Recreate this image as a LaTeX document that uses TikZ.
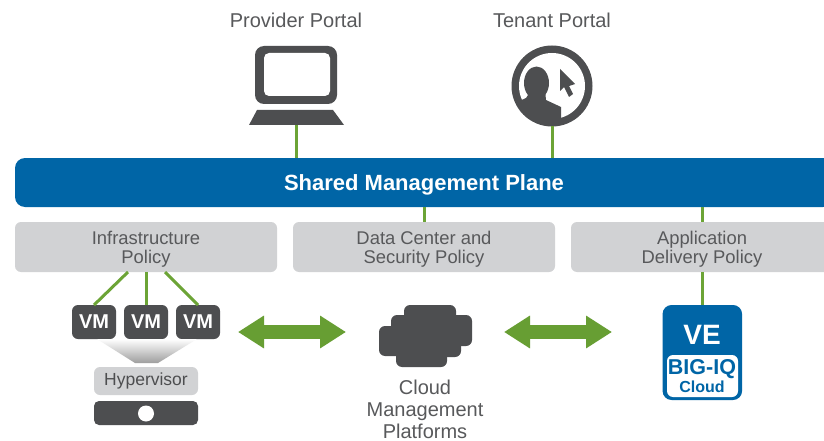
\documentclass[tikz,border=0pt]{standalone}
\usepackage{fontspec}
\setmainfont{Liberation Sans}
\usetikzlibrary{arrows.meta}
\definecolor{dark}{HTML}{4D4E50}
\definecolor{txt}{HTML}{58595B}
\definecolor{blue1}{HTML}{0065A6}
\definecolor{pale}{HTML}{D1D2D4}
\definecolor{grn}{HTML}{6CA436}
\definecolor{grn2}{HTML}{679E33}
\newcommand{\fs}[2]{\fontsize{#1}{#2}\selectfont}
\tikzset{
  box/.style={inner sep=0pt,outer sep=0pt,align=center},
  policy/.style={box,fill=pale,rounded corners=6pt,minimum width=262pt,minimum height=50pt,text=txt,text depth=0pt,font=\fs{18.4}{19}},
  vmbox/.style={box,fill=dark,rounded corners=6pt,minimum width=44pt,minimum height=34pt,text=white,font=\bfseries\fs{20}{20}},
  link/.style={draw=grn,line width=3pt},
  bigarrow/.style={draw=grn2,line width=14pt,{Triangle[length=26pt,width=31pt]}-{Triangle[length=26pt,width=31pt]}},
  label/.style={box,text=txt,font=\fs{20}{22}},
}
\begin{document}
\begin{tikzpicture}[x=1pt,y=-1pt]
\useasboundingbox (0,0) rectangle (824,441);
\clip (0,0) rectangle (824,441);
\fill[white] (0,0) rectangle (824,441);

% labels
\node[label] (provlabel) at (296,20) {Provider Portal};
\node[label] (tenlabel) at (552,20) {Tenant Portal};

% main boxes
\node[box,fill=blue1,rounded corners=10pt,minimum width=818pt,minimum height=49pt,text=white,text depth=0pt,font=\bfseries\fs{22}{22}] (bar) at (424,182.5) {Shared Management Plane};
\node[policy] (ip) at (146,247) {Infrastructure\\Policy};
\node[policy] (dc) at (424,247) {Data Center and\\Security Policy};
\node[policy] (ap) at (702,247) {Application\\Delivery Policy};

% laptop
\node[box,fill=dark,rounded corners=9pt,minimum width=82pt,minimum height=58pt] (screen) at (296,75) {};
\node[box,fill=white,rounded corners=5pt,minimum width=66pt,minimum height=43pt] (screenin) at (297,74.5) {};
\coordinate (lapbase) at (296,125);
\fill[dark] (257,110) -- (333,110) -- (344,125) -- (249,125) -- cycle;

% tenant icon
\node[box,circle,fill=dark,minimum size=81pt] (tenant) at (552,86) {};
\node[box,circle,fill=white,minimum size=66pt] (tenantin) at (552,86) {};
\begin{scope}
  \clip (552,86) circle (34pt);
  \fill[dark] (536.5,83) ellipse (12.5pt and 16.5pt);
  \fill[dark] (530,92) -- (526,98) -- (515,103) -- (505,106) -- (505,130) -- (561,130) -- (561,107) -- (546,100) -- (545,90) -- cycle;
\end{scope}
\fill[dark] (560,69) -- (560,91) -- (564,87) -- (569,97) -- (573,94) -- (569,86) -- (575,84) -- cycle;

% connectors
\draw[link] (lapbase) -- (lapbase |- bar.north);
\draw[link] (tenant.south) -- (tenant.south |- bar.north);
\draw[link] (bar.south) -- (dc.north);
\draw[link] (bar.south -| ap.north) -- (ap.north);

% VMs
\node[vmbox] (vm1) at (94,322) {VM};
\node[vmbox] (vm2) at (146,322) {VM};
\node[vmbox] (vm3) at (198,322) {VM};
\coordinate (ip1) at (128,272);
\coordinate (ip3) at (165,272);
\draw[link] (ip1) -- (vm1.north);
\draw[link] (ip.south) -- (vm2.north);
\draw[link] (ip3) -- (vm3.north);

% funnel, hypervisor, server
\shade[top color=white,bottom color=black!38] (97,339) -- (197,339) -- (158,363) -- (135,363) -- cycle;
\node[box,fill=pale,rounded corners=6pt,minimum width=104pt,minimum height=28pt,text=dark,font=\fs{17.5}{18}] (hyp) at (146,381) {\raisebox{-1pt}{Hypervisor}};
\node[box,fill=dark,rounded corners=5pt,minimum width=104pt,minimum height=24pt] (server) at (146,413) {};
\node[box,circle,fill=white,minimum size=16pt] (led) at (146,413.5) {};

% cloud
\begin{scope}[dark,rounded corners=6pt]
\fill (404,305) rectangle (456,330);
\fill (391,315) rectangle (472,346);
\fill (379,326) rectangle (420,356);
\fill (396,330) rectangle (461,357);
\fill (396,340) rectangle (447,367);
\end{scope}
\node[label] (cloudtxt) at (425,409.5) {Cloud\\Management\\Platforms};

% VE
\node[box,fill=blue1,rounded corners=9pt,minimum width=79.5pt,minimum height=95pt] (ve) at (702.3,352.5) {};
\node[box,fill=white,rounded corners=6pt,minimum width=71pt,minimum height=42pt] (vein) at (702.5,376) {};
\node[box,text=white,font=\bfseries\fs{28}{28}] (velabel) at (702,335) {VE};
\node[box,text=blue1,font=\bfseries\fs{21.5}{21}] (bigiq) at (702,369) {BIG-IQ};
\node[box,text=blue1,font=\bfseries\fs{16}{16}] (bigcloud) at (702,387) {Cloud};
\draw[link] (ap.south) -- (ap.south |- ve.north);

% big arrows
\coordinate (a1l) at (238,332);
\coordinate (a1r) at (346,332);
\coordinate (a2l) at (504,332);
\coordinate (a2r) at (612,332);
\draw[bigarrow] (a1l) -- (a1r);
\draw[bigarrow] (a2l) -- (a2r);
\end{tikzpicture}
\end{document}
